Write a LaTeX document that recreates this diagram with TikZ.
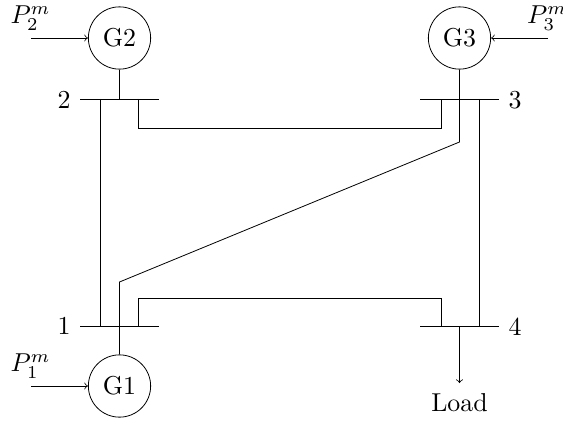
\documentclass[tikz,border=0pt]{standalone}
\begin{document}
\begin{tikzpicture}[x=0.017647cm,y=-0.017647cm,
  gen/.style={draw,circle,minimum size=0.846cm,inner sep=0pt,scale=1.3,line width=0.4pt},
  bus/.style={line width=0.4pt},
  line/.style={line width=0.4pt},
  feed/.style={->,line width=0.4pt},
  lbl/.style={inner sep=0pt,anchor=center,scale=1.3}]
\useasboundingbox (0,0) rectangle (563,423);
% generators
\node[gen] (G2) at (119.5,38) {G2};
\node[gen] (G3) at (459.5,38) {G3};
\node[gen] (G1) at (119.5,386) {G1};
% bus ends
\coordinate (b2l) at (80,99);  \coordinate (b2r) at (159,99);
\coordinate (b3l) at (420,99); \coordinate (b3r) at (499,99);
\coordinate (b1l) at (80,326); \coordinate (b1r) at (159,326);
\coordinate (b4l) at (420,326);\coordinate (b4r) at (499,326);
\draw[bus] (b2l) -- (b2r);
\draw[bus] (b3l) -- (b3r);
\draw[bus] (b1l) -- (b1r);
\draw[bus] (b4l) -- (b4r);
% tie points
\coordinate (t2a) at (100.5,99); \coordinate (t1a) at (100.5,326);
\coordinate (t2b) at (138,99);   \coordinate (t3b) at (441,99);
\coordinate (t1c) at (138,326);  \coordinate (t4c) at (441,326);
\coordinate (t3d) at (479,99);   \coordinate (t4d) at (479,326);
\coordinate (k3) at (459.5,142); \coordinate (k1) at (119.5,282);
\coordinate (t2g) at (119.5,99);
\coordinate (t4l) at (459.5,326);
\coordinate (lt) at (459.5,383);
% connectors
\draw[line] (G2.south) -- (t2g);
\draw[line] (G3.south) -- (k3) -- (k1) -- (G1.north);
\draw[line] (t2a) -- (t1a);
\draw[line] (t2b) |- (t3b |- 0,128) -- (t3b);
\draw[line] (t1c) |- (t4c |- 0,298) -- (t4c);
\draw[line] (t3d) -- (t4d);
% labels
\node[lbl] (n2) at (64,100) {2};
\node[lbl] (n3) at (515,100) {3};
\node[lbl] (n1) at (64,326) {1};
\node[lbl] (n4) at (515,327) {4};
\node[lbl] (load) at (459.5,403) {Load};
\node[lbl] (p2) at (30.5,18) {$P_2^m$};
\node[lbl] (p3) at (547,18) {$P_3^m$};
\node[lbl] (p1) at (30.5,366) {$P_1^m$};
% arrows
\coordinate (a2) at (31,38);
\coordinate (a3) at (548,38);
\coordinate (a1) at (31,386);
\draw[feed] (a2) -- (G2.west);
\draw[feed] (a3) -- (G3.east);
\draw[feed] (a1) -- (G1.west);
\draw[feed] (t4l) -- (lt);
\end{tikzpicture}
\end{document}
